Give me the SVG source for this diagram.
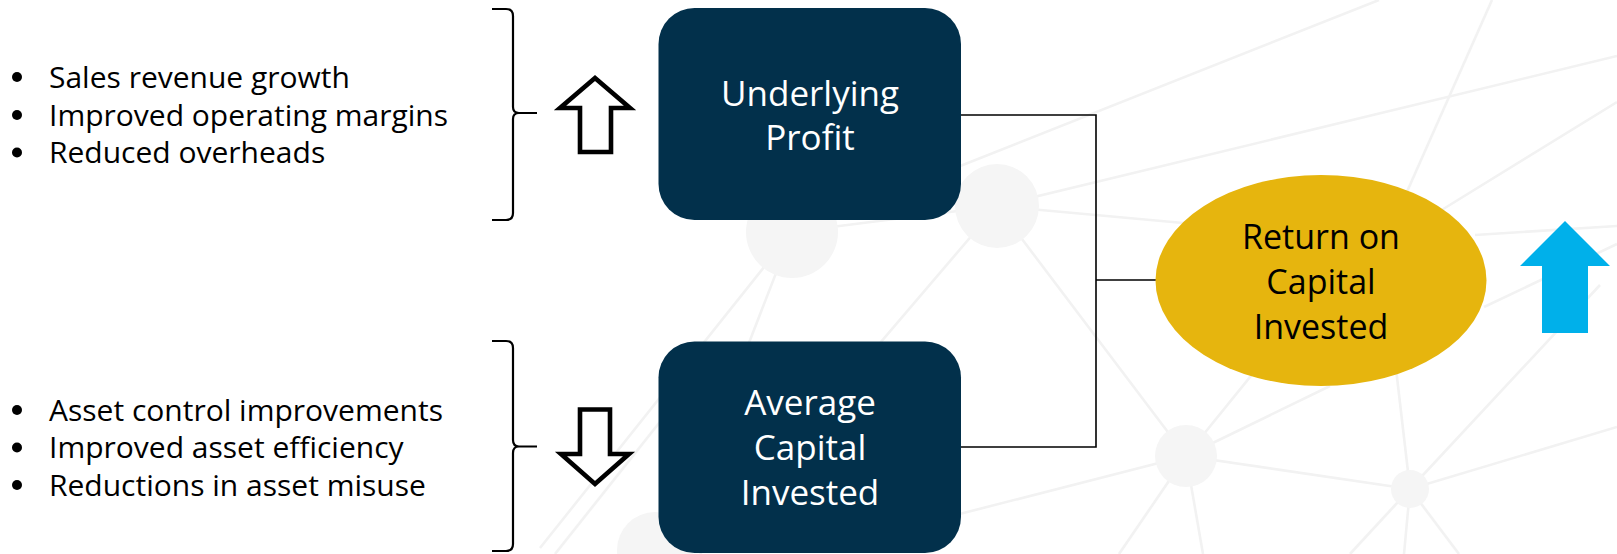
<svg xmlns="http://www.w3.org/2000/svg" width="1617" height="554" viewBox="0 0 1617 554">
  <style>
    .bg line { stroke: #f2f2f2; stroke-width: 2.6; }
    .bg circle { fill: #f5f5f5; }
    .item { font-family: "Open Sans", "Noto Sans", sans-serif; font-size: 30px; fill: #000; }
    .boxt { font-family: "Open Sans", "Noto Sans", sans-serif; font-size: 35px; fill: #fff; text-anchor: middle; }
    .ellt { font-family: "Open Sans", "Noto Sans", sans-serif; font-size: 34px; fill: #000; text-anchor: middle; }
    .box { fill: #02304b; }
    .brace { fill: none; stroke: #000; stroke-width: 2.2; }
    .hollow { fill: #fff; stroke: #000; stroke-width: 4.6; stroke-linejoin: miter; }
    .conn { fill: none; stroke: #000; stroke-width: 1.6; }
  </style>

  <rect width="1617" height="554" fill="#ffffff"/>

  <g class="bg" id="background">
    <line x1="940" y1="174" x2="1379" y2="0"/>
    <line x1="997" y1="206" x2="1617" y2="56"/>
    <line x1="1390" y1="230" x2="1492" y2="0"/>
    <line x1="1440" y1="211" x2="1617" y2="102"/>
    <line x1="997" y1="206" x2="1260" y2="230"/>
    <line x1="1475" y1="235" x2="1617" y2="226"/>
    <line x1="997" y1="206" x2="1186" y2="456"/>
    <line x1="1280" y1="340" x2="1186" y2="456"/>
    <line x1="1186" y1="456" x2="1330" y2="386"/>
    <line x1="1186" y1="456" x2="1410" y2="489"/>
    <line x1="1395" y1="360" x2="1410" y2="489"/>
    <line x1="1410" y1="489" x2="1600" y2="285"/>
    <line x1="1410" y1="489" x2="1617" y2="427"/>
    <line x1="1186" y1="456" x2="940" y2="519"/>
    <line x1="1186" y1="456" x2="1119" y2="554"/>
    <line x1="1186" y1="456" x2="1203" y2="554"/>
    <line x1="1410" y1="489" x2="1350" y2="554"/>
    <line x1="1410" y1="489" x2="1404" y2="554"/>
    <line x1="1410" y1="489" x2="1459" y2="554"/>
    <line x1="1617" y1="244" x2="1484" y2="307"/>
    <line x1="792" y1="232" x2="997" y2="206"/>
    <line x1="997" y1="206" x2="700" y2="554"/>
    <line x1="792" y1="232" x2="540" y2="548"/>
    <line x1="792" y1="232" x2="667" y2="554"/>
    <line x1="555" y1="554" x2="667" y2="413"/>
    <circle cx="997" cy="206" r="42"/>
    <circle cx="792" cy="232" r="46"/>
    <circle cx="1186" cy="456" r="31"/>
    <circle cx="1410" cy="489" r="19"/>
    <circle cx="655" cy="550" r="38"/>
  </g>

  <g id="connectors">
    <polyline class="conn" points="961,115 1096,115 1096,447 961,447"/>
    <line class="conn" x1="1096" y1="280" x2="1156" y2="280"/>
  </g>

  <g id="profit-drivers">
    <circle cx="17" cy="77" r="5"/>
    <circle cx="17" cy="115" r="5"/>
    <circle cx="17" cy="152.5" r="5"/>
    <text class="item" x="49" y="87.7">Sales revenue growth</text>
    <text class="item" x="49" y="125.5">Improved operating margins</text>
    <text class="item" x="49" y="163.3">Reduced overheads</text>
  </g>

  <g id="capital-drivers">
    <circle cx="17" cy="410" r="5"/>
    <circle cx="17" cy="447.5" r="5"/>
    <circle cx="17" cy="485" r="5"/>
    <text class="item" x="49" y="420.6">Asset control improvements</text>
    <text class="item" x="49" y="458.3">Improved asset efficiency</text>
    <text class="item" x="49" y="496">Reductions in asset misuse</text>
  </g>

  <g id="brace-top">
    <path class="brace" d="M492,9 L506,9 Q513,9 513,16 L513,107 Q513,113 519,113 L537,113 M519,113 Q513,113 513,119 L513,213 Q513,220 506,220 L492,220"/>
  </g>
  <g id="brace-bottom">
    <path class="brace" d="M492,341 L506,341 Q513,341 513,348 L513,440 Q513,446.5 519,446.5 L537,446.5 M519,446.5 Q513,446.5 513,453 L513,544 Q513,551 506,551 L492,551"/>
  </g>

  <g id="arrow-up-outline">
    <path class="hollow" d="M595,78 L630,108 L611,108 L611,152 L580,152 L580,108 L560,108 Z"/>
  </g>
  <g id="arrow-down-outline">
    <path class="hollow" d="M580,409.5 L610,409.5 L610,454 L629,454 L595,484 L561,454 L580,454 Z"/>
  </g>

  <g id="underlying-profit">
    <rect class="box" x="658.5" y="8" width="302.5" height="212" rx="36" ry="36"/>
    <text class="boxt" x="810" y="106">Underlying</text>
    <text class="boxt" x="810" y="150">Profit</text>
  </g>

  <g id="average-capital-invested">
    <rect class="box" x="658.5" y="341.5" width="302.5" height="211.5" rx="36" ry="36"/>
    <text class="boxt" x="810" y="415">Average</text>
    <text class="boxt" x="810" y="460">Capital</text>
    <text class="boxt" x="810" y="504.5">Invested</text>
  </g>

  <g id="return-on-capital">
    <ellipse cx="1321" cy="280.5" rx="165.5" ry="105.5" fill="#e6b50e"/>
    <text class="ellt" x="1321" y="249">Return on</text>
    <text class="ellt" x="1321" y="294">Capital</text>
    <text class="ellt" x="1321" y="339">Invested</text>
  </g>

  <g id="arrow-up-blue">
    <path d="M1565,221 L1610,266 L1588,266 L1588,333 L1542,333 L1542,266 L1520,266 Z" fill="#00b0ea"/>
  </g>
</svg>
